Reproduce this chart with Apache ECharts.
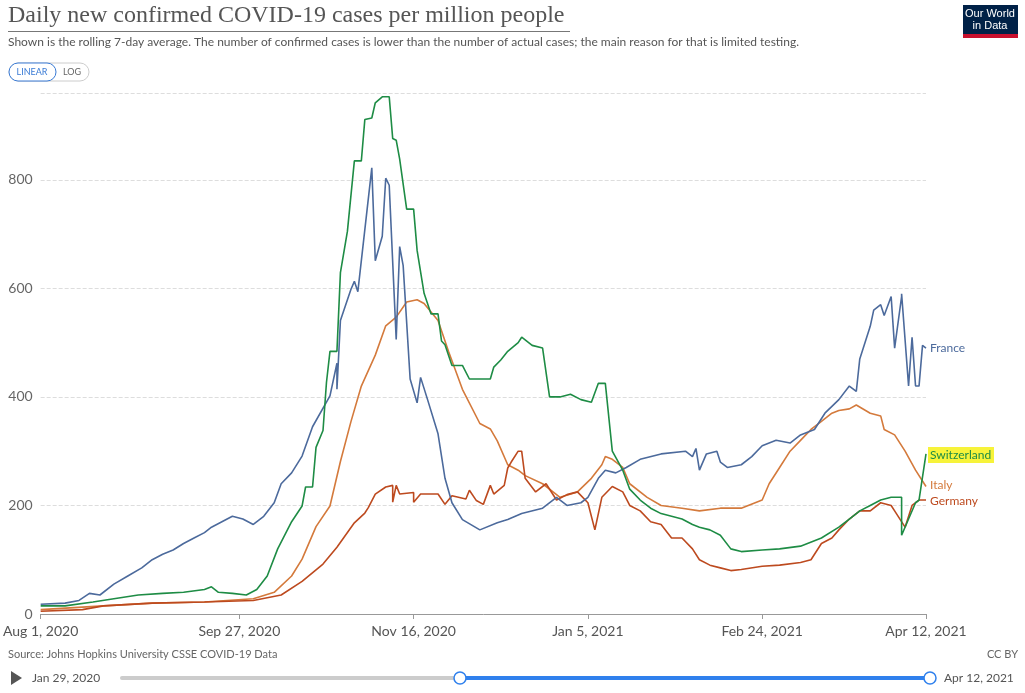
<!DOCTYPE html>
<html>
<head>
<meta charset="utf-8">
<script src="https://cdn.jsdelivr.net/npm/echarts@6/dist/echarts.min.js"></script>
<style>html,body{margin:0;padding:0;background:#fff}#chart{width:1025px;height:693px}</style>
</head>
<body>
<div id="chart"></div>
<script>
// days since Aug 1, 2020
var franceDays = [0,7,11,14,17,21,25,29,32,35,38,41,44,47,49,52,55,58,61,64,67,69,72,75,78,83,85,85,86,89,90,91,95,96,98,99,100,102,103,104,106,108,109,111,114,116,118,121,126,131,134,138,144,148,151,155,157,160,162,165,168,172,178,185,187,188,189,191,194,195,197,201,204,207,211,215,218,222,225,229,232,234,235,238,239,241,242,244,245,247,247,249,250,251,252,253,254];
var franceVals = [18,20,25,38,35,55,70,85,100,110,118,130,140,150,160,170,180,175,165,180,205,240,260,291,345,402,462,414,541,598,613,594,822,651,696,803,790,506,677,642,433,389,436,395,332,250,205,174,155,168,174,185,195,215,200,205,215,250,265,260,270,285,295,300,290,305,265,295,300,280,270,275,290,310,320,315,330,340,370,395,420,410,470,530,560,570,550,585,490,585,590,420,510,420,420,495,490];

var swissDays = [0,7,15,21,28,35,41,47,49,51,55,59,62,65,68,72,75,76,78,79,81,82,83,85,86,88,90,92,93,95,96,98,100,101,102,103,105,107,108,110,112,114,115,116,118,121,123,129,130,132,134,137,138,141,144,146,149,152,155,158,160,162,164,167,169,172,175,178,181,184,187,189,192,195,198,201,207,212,218,224,229,232,235,238,241,244,247,247,249,251,252,254];
var swissVals = [15,15,22,28,35,38,40,45,50,40,38,35,45,70,120,170,199,234,234,307,338,427,484,484,629,705,835,835,911,914,942,953,953,876,873,838,746,746,670,591,553,553,503,496,458,458,433,433,455,468,484,500,510,495,490,400,400,405,395,390,425,425,300,265,230,210,195,185,180,175,165,160,155,145,120,115,118,120,125,140,160,175,190,200,210,215,215,145,175,205,210,295];

var italyDays = [0,18,32,47,61,67,72,75,79,83,86,89,92,96,99,102,105,108,110,114,117,121,126,129,131,134,137,139,144,147,149,154,158,161,162,164,167,169,174,178,184,189,195,201,207,209,212,215,218,221,224,227,229,232,234,238,241,242,245,248,251,254];
var italyVals = [8,15,20,22,28,40,70,101,161,199,281,354,420,477,531,547,575,579,572,541,484,414,351,341,319,275,265,255,240,225,215,225,250,275,290,285,270,240,215,200,195,190,195,195,210,240,270,300,320,340,355,370,375,378,385,370,365,340,330,300,265,235];

var germanyDays = [0,12,18,32,47,61,69,75,81,85,90,93,94,96,99,101,101,102,103,107,107,109,114,116,118,122,123,125,127,129,130,133,134,135,137,138,139,142,145,148,151,154,157,159,161,164,167,169,172,175,178,181,184,187,189,192,195,198,201,207,212,218,221,224,227,229,232,235,238,241,244,245,248,250,252,254];
var germanyVals = [5,8,15,20,22,25,35,60,92,123,168,186,196,221,234,237,206,237,221,224,206,221,221,202,218,212,228,209,202,237,221,237,269,280,300,300,250,225,240,210,220,225,205,155,215,235,225,200,190,170,165,140,140,120,100,90,85,80,82,88,90,95,100,130,140,155,175,190,190,205,200,190,160,200,210,210];

var tickDays = [0,57,107,157,207,254];
var tickLabels = ['Aug 1, 2020','Sep 27, 2020','Nov 16, 2020','Jan 5, 2021','Feb 24, 2021','Apr 12, 2021'];
var yTicks = [0,200,400,600,800];

function pairs(d, v){ return d.map(function(x,i){ return [x, v[i]]; }); }

var chart = echarts.init(document.getElementById('chart'));
var font = 'Lato, "Noto Sans", sans-serif';
function line(name, d, v, color){
  return {name:name, type:'line', data:pairs(d,v), showSymbol:false, symbol:'none',
    lineStyle:{color:color, width:1.6}, itemStyle:{color:color}, animation:false};
}
chart.setOption({
  animation:false,
  textStyle:{fontFamily:font},
  grid:{left:37, right:99, top:93, bottom:79},
  xAxis:{type:'value', min:0, max:254,
    axisLine:{show:true, lineStyle:{color:'#999'}},
    axisTick:{show:true, customValues:tickDays, length:5, lineStyle:{color:'#999'}},
    splitLine:{show:false},
    axisLabel:{customValues:tickDays, color:'#555', fontSize:14, margin:10,
      formatter:function(v){ return tickLabels[tickDays.indexOf(v)] || ''; }}},
  yAxis:{type:'value', min:0, max:960, interval:200,
    axisLine:{show:false}, axisTick:{show:false},
    splitLine:{lineStyle:{color:'#ddd', type:'dashed'}},
    axisLabel:{color:'#666', fontSize:14, showMaxLabel:false, margin:8, inside:false,
      formatter:function(v){ return yTicks.indexOf(v) >= 0 ? String(v) : ''; }}},
  series:[
    line('Italy', italyDays, italyVals, '#d47a3c'),
    line('Germany', germanyDays, germanyVals, '#bd4a1f'),
    line('France', franceDays, franceVals, '#4c6a9c'),
    line('Switzerland', swissDays, swissVals, '#1e8c45')
  ],
  graphic:[
    {type:'text', left:8, top:4, style:{text:'Daily new confirmed COVID-19 cases per million people', font:'24px "Liberation Serif", serif', fill:'#555'}},
    {type:'rect', shape:{x:8, y:31, width:562, height:1}, style:{fill:'#777'}},
    {type:'text', left:8, top:36, style:{text:'Shown is the rolling 7-day average. The number of confirmed cases is lower than the number of actual cases; the main reason for that is limited testing.', font:'12px Lato, sans-serif', fill:'#555'}},
    {type:'rect', shape:{x:963, y:5, width:55, height:29}, style:{fill:'#002147'}},
    {type:'rect', shape:{x:963, y:34, width:55, height:4}, style:{fill:'#c8102e'}},
    {type:'text', x:990, y:8, style:{text:'Our World\nin Data', font:'11px "Liberation Sans Narrow", "Liberation Sans", sans-serif', fill:'#fff', align:'center', lineHeight:12}},
    {type:'rect', shape:{x:9, y:63, width:80, height:18, r:9}, style:{fill:'#fff', stroke:'#ccc'}},
    {type:'rect', shape:{x:9, y:63, width:47, height:18, r:9}, style:{fill:'#fff', stroke:'#3a7bd5'}},
    {type:'text', x:32, y:68, style:{text:'LINEAR', font:'9px Lato, sans-serif', fill:'#3a7bd5', align:'center'}},
    {type:'text', x:72, y:68, style:{text:'LOG', font:'9px Lato, sans-serif', fill:'#666', align:'center'}},
    {type:'text', x:930, y:342, style:{text:'France', font:'12px Lato, sans-serif', fill:'#4c6a9c'}},
    {type:'rect', shape:{x:928, y:447, width:66, height:16}, style:{fill:'#f7f33a'}},
    {type:'text', x:930, y:449, style:{text:'Switzerland', font:'12px Lato, sans-serif', fill:'#1e8c45'}},
    {type:'text', x:930, y:479, style:{text:'Italy', font:'12px Lato, sans-serif', fill:'#d47a3c'}},
    {type:'text', x:930, y:495, style:{text:'Germany', font:'12px Lato, sans-serif', fill:'#bd4a1f'}},
    {type:'text', x:8, y:649, style:{text:'Source: Johns Hopkins University CSSE COVID-19 Data', font:'11px Lato, sans-serif', fill:'#666'}},
    {type:'text', x:1018, y:649, style:{text:'CC BY', font:'11px Lato, sans-serif', fill:'#666', align:'right'}},
    {type:'polygon', shape:{points:[[11,671],[11,685],[22,678]]}, style:{fill:'#555'}},
    {type:'text', x:32, y:672, style:{text:'Jan 29, 2020', font:'12px Lato, sans-serif', fill:'#555'}},
    {type:'rect', shape:{x:120, y:676, width:340, height:4, r:2}, style:{fill:'#ccc'}},
    {type:'rect', shape:{x:460, y:676, width:470, height:4}, style:{fill:'#2f80ed'}},
    {type:'circle', shape:{cx:460, cy:678, r:6}, style:{fill:'#fff', stroke:'#2f80ed', lineWidth:1.5}},
    {type:'circle', shape:{cx:930, cy:678, r:6}, style:{fill:'#fff', stroke:'#2f80ed', lineWidth:1.5}},
    {type:'text', x:944, y:672, style:{text:'Apr 12, 2021', font:'12px Lato, sans-serif', fill:'#555'}}
  ]
});
</script>
</body>
</html>
